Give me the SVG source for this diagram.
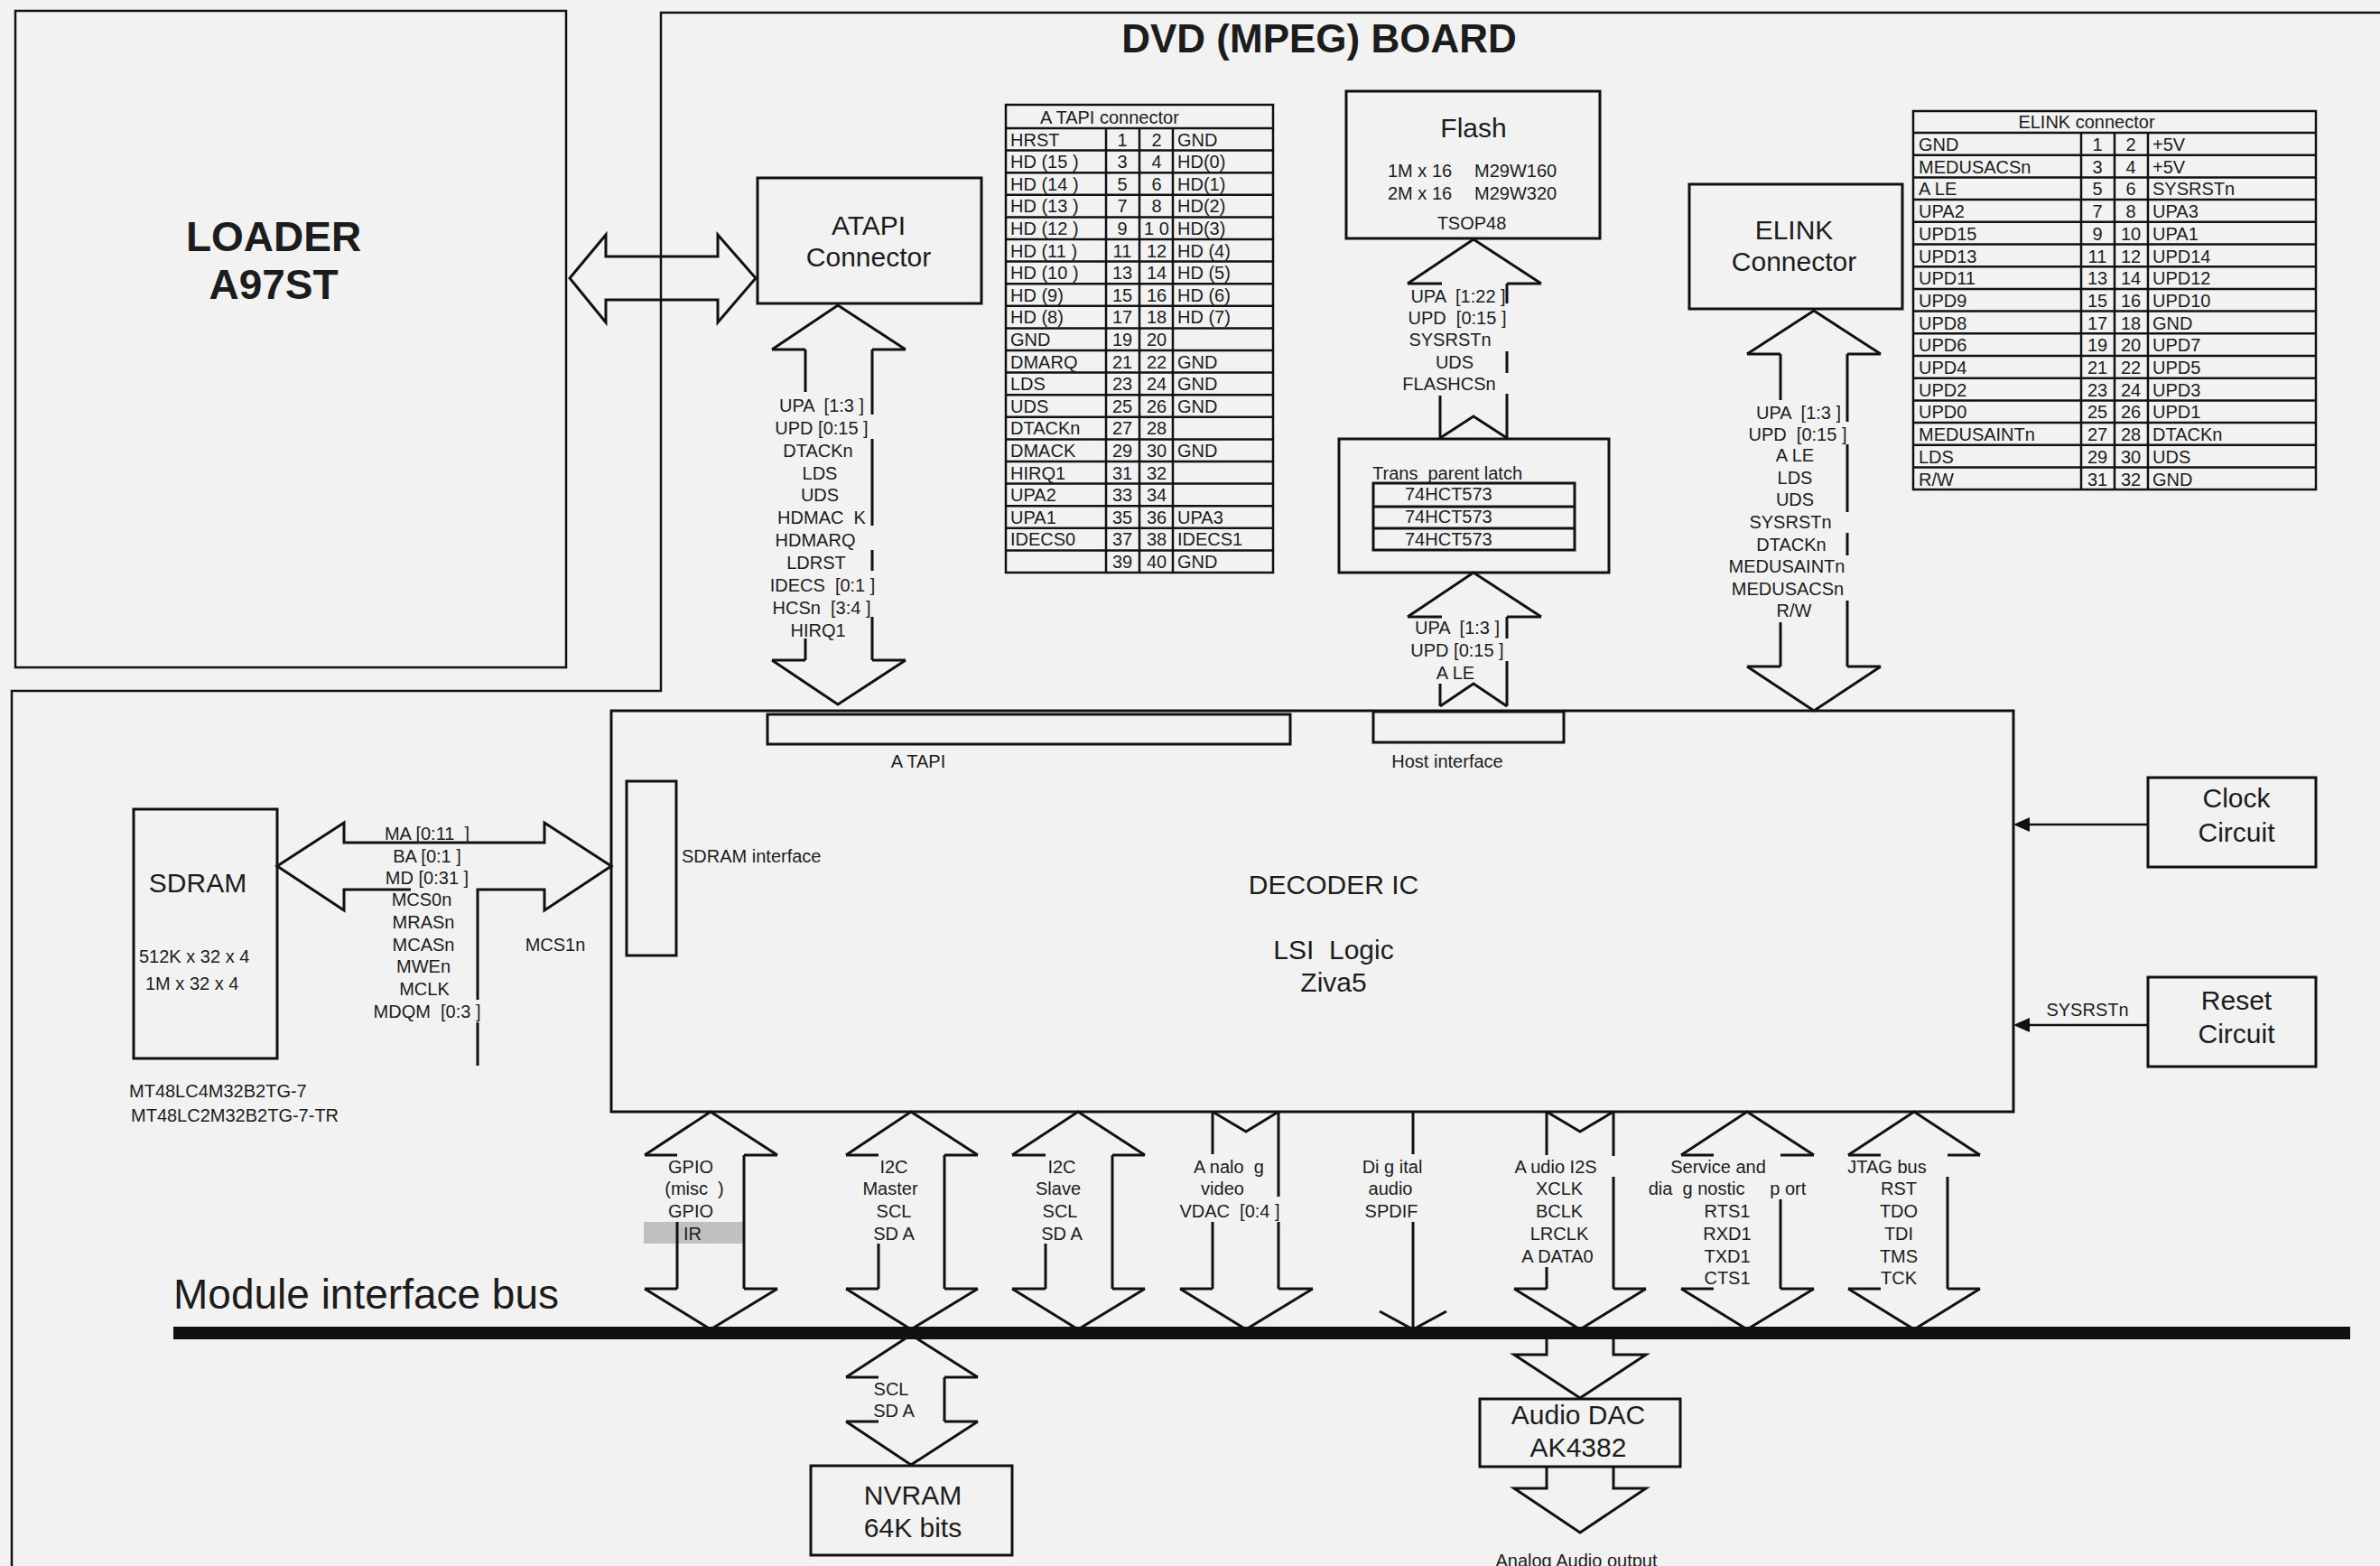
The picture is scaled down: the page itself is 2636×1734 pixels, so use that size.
<svg xmlns="http://www.w3.org/2000/svg" width="2636" height="1734" viewBox="0 0 2636 1734">
<style>
text{font-family:"Liberation Sans",Arial,sans-serif;fill:#1c1c1c;font-size:20px;white-space:pre}
.c{text-anchor:middle}
.big{font-size:30px}
.bold{font-weight:bold}
.bx{fill:none;stroke:#111;stroke-width:3}
.ln{fill:none;stroke:#111;stroke-width:3;stroke-linejoin:miter}
.tl{fill:none;stroke:#111;stroke-width:2.5}
</style>
<rect x="0" y="0" width="2636" height="1734" fill="#f2f2f2"/>

<g id="board-outline">
<polyline class="tl" points="2636,14 732,14 732,765 13,765 13,1734"/>
<text class="c bold" x="1461" y="58" style="font-size:44px">DVD (MPEG) BOARD</text>
</g>

<g id="loader">
<rect class="tl" x="17" y="12" width="610" height="727"/>
<text class="c bold" x="303" y="278" style="font-size:46px">LOADER</text>
<text class="c bold" x="303" y="331" style="font-size:46px">A97ST</text>
</g>

<g id="atapi-connector">
<rect class="bx" x="839" y="197" width="248" height="139"/>
<text class="c big" x="962" y="260">ATAPI</text>
<text class="c big" x="962" y="295">Connector</text>
</g>

<g id="atapi-table">
<rect class="tl" x="1114" y="116" width="296" height="518"/>
<line class="tl" x1="1114" y1="142" x2="1410" y2="142"/>
<g class="tl">
<line x1="1114" y1="166.6" x2="1410" y2="166.6"/><line x1="1114" y1="191.2" x2="1410" y2="191.2"/>
<line x1="1114" y1="215.8" x2="1410" y2="215.8"/><line x1="1114" y1="240.4" x2="1410" y2="240.4"/>
<line x1="1114" y1="265" x2="1410" y2="265"/><line x1="1114" y1="289.6" x2="1410" y2="289.6"/>
<line x1="1114" y1="314.2" x2="1410" y2="314.2"/><line x1="1114" y1="338.8" x2="1410" y2="338.8"/>
<line x1="1114" y1="363.4" x2="1410" y2="363.4"/><line x1="1114" y1="388" x2="1410" y2="388"/>
<line x1="1114" y1="412.6" x2="1410" y2="412.6"/><line x1="1114" y1="437.2" x2="1410" y2="437.2"/>
<line x1="1114" y1="461.8" x2="1410" y2="461.8"/><line x1="1114" y1="486.4" x2="1410" y2="486.4"/>
<line x1="1114" y1="511" x2="1410" y2="511"/><line x1="1114" y1="535.6" x2="1410" y2="535.6"/>
<line x1="1114" y1="560.2" x2="1410" y2="560.2"/><line x1="1114" y1="584.8" x2="1410" y2="584.8"/>
<line x1="1114" y1="609.4" x2="1410" y2="609.4"/>
<line x1="1225" y1="142" x2="1225" y2="634"/><line x1="1262" y1="142" x2="1262" y2="634"/><line x1="1299" y1="142" x2="1299" y2="634"/>
</g>
<text x="1152" y="137">A TAPI connector</text>
<g>
<text x="1119" y="161.5">HRST</text><text class="c" x="1243" y="161.5">1</text><text class="c" x="1281" y="161.5">2</text><text x="1304" y="161.5">GND</text>
<text x="1119" y="186.1">HD (15 )</text><text class="c" x="1243" y="186.1">3</text><text class="c" x="1281" y="186.1">4</text><text x="1304" y="186.1">HD(0)</text>
<text x="1119" y="210.7">HD (14 )</text><text class="c" x="1243" y="210.7">5</text><text class="c" x="1281" y="210.7">6</text><text x="1304" y="210.7">HD(1)</text>
<text x="1119" y="235.3">HD (13 )</text><text class="c" x="1243" y="235.3">7</text><text class="c" x="1281" y="235.3">8</text><text x="1304" y="235.3">HD(2)</text>
<text x="1119" y="259.9">HD (12 )</text><text class="c" x="1243" y="259.9">9</text><text class="c" x="1281" y="259.9">1 0</text><text x="1304" y="259.9">HD(3)</text>
<text x="1119" y="284.5">HD (11 )</text><text class="c" x="1243" y="284.5">11</text><text class="c" x="1281" y="284.5">12</text><text x="1304" y="284.5">HD (4)</text>
<text x="1119" y="309.1">HD (10 )</text><text class="c" x="1243" y="309.1">13</text><text class="c" x="1281" y="309.1">14</text><text x="1304" y="309.1">HD (5)</text>
<text x="1119" y="333.7">HD (9)</text><text class="c" x="1243" y="333.7">15</text><text class="c" x="1281" y="333.7">16</text><text x="1304" y="333.7">HD (6)</text>
<text x="1119" y="358.3">HD (8)</text><text class="c" x="1243" y="358.3">17</text><text class="c" x="1281" y="358.3">18</text><text x="1304" y="358.3">HD (7)</text>
<text x="1119" y="382.9">GND</text><text class="c" x="1243" y="382.9">19</text><text class="c" x="1281" y="382.9">20</text>
<text x="1119" y="407.5">DMARQ</text><text class="c" x="1243" y="407.5">21</text><text class="c" x="1281" y="407.5">22</text><text x="1304" y="407.5">GND</text>
<text x="1119" y="432.1">LDS</text><text class="c" x="1243" y="432.1">23</text><text class="c" x="1281" y="432.1">24</text><text x="1304" y="432.1">GND</text>
<text x="1119" y="456.7">UDS</text><text class="c" x="1243" y="456.7">25</text><text class="c" x="1281" y="456.7">26</text><text x="1304" y="456.7">GND</text>
<text x="1119" y="481.3">DTACKn</text><text class="c" x="1243" y="481.3">27</text><text class="c" x="1281" y="481.3">28</text>
<text x="1119" y="505.9">DMACK</text><text class="c" x="1243" y="505.9">29</text><text class="c" x="1281" y="505.9">30</text><text x="1304" y="505.9">GND</text>
<text x="1119" y="530.5">HIRQ1</text><text class="c" x="1243" y="530.5">31</text><text class="c" x="1281" y="530.5">32</text>
<text x="1119" y="555.1">UPA2</text><text class="c" x="1243" y="555.1">33</text><text class="c" x="1281" y="555.1">34</text>
<text x="1119" y="579.7">UPA1</text><text class="c" x="1243" y="579.7">35</text><text class="c" x="1281" y="579.7">36</text><text x="1304" y="579.7">UPA3</text>
<text x="1119" y="604.3">IDECS0</text><text class="c" x="1243" y="604.3">37</text><text class="c" x="1281" y="604.3">38</text><text x="1304" y="604.3">IDECS1</text>
<text class="c" x="1243" y="628.9">39</text><text class="c" x="1281" y="628.9">40</text><text x="1304" y="628.9">GND</text>
</g>
</g>

<g id="flash">
<rect class="bx" x="1491" y="101" width="281" height="163"/>
<text class="c big" x="1632" y="152">Flash</text>
<text x="1537" y="196">1M x 16</text><text x="1633" y="196">M29W160</text>
<text x="1537" y="221">2M x 16</text><text x="1633" y="221">M29W320</text>
<text class="c" x="1630" y="254">TSOP48</text>
</g>

<g id="latch">
<rect class="bx" x="1483" y="486" width="299" height="148"/>
<text x="1520" y="531">Trans  parent latch</text>
<rect class="bx" x="1521" y="535" width="223" height="74"/>
<line class="ln" x1="1521" y1="561" x2="1744" y2="561"/>
<line class="ln" x1="1521" y1="585" x2="1744" y2="585"/>
<text x="1556" y="554">74HCT573</text>
<text x="1556" y="579">74HCT573</text>
<text x="1556" y="604">74HCT573</text>
</g>

<g id="elink-connector">
<rect class="bx" x="1871" y="204" width="236" height="138"/>
<text class="c big" x="1987" y="265">ELINK</text>
<text class="c big" x="1987" y="300">Connector</text>
</g>

<g id="elink-table">
<rect class="tl" x="2119" y="123" width="446" height="419"/>
<g class="tl">
<line x1="2119" y1="147" x2="2565" y2="147"/>
<line x1="2119" y1="171.7" x2="2565" y2="171.7"/><line x1="2119" y1="196.4" x2="2565" y2="196.4"/>
<line x1="2119" y1="221.1" x2="2565" y2="221.1"/><line x1="2119" y1="245.8" x2="2565" y2="245.8"/>
<line x1="2119" y1="270.5" x2="2565" y2="270.5"/><line x1="2119" y1="295.2" x2="2565" y2="295.2"/>
<line x1="2119" y1="319.9" x2="2565" y2="319.9"/><line x1="2119" y1="344.6" x2="2565" y2="344.6"/>
<line x1="2119" y1="369.3" x2="2565" y2="369.3"/><line x1="2119" y1="394" x2="2565" y2="394"/>
<line x1="2119" y1="418.7" x2="2565" y2="418.7"/><line x1="2119" y1="443.4" x2="2565" y2="443.4"/>
<line x1="2119" y1="468.1" x2="2565" y2="468.1"/><line x1="2119" y1="492.8" x2="2565" y2="492.8"/>
<line x1="2119" y1="517.5" x2="2565" y2="517.5"/>
<line x1="2305" y1="147" x2="2305" y2="542"/><line x1="2342" y1="147" x2="2342" y2="542"/><line x1="2379" y1="147" x2="2379" y2="542"/>
</g>
<text class="c" x="2311" y="142">ELINK connector</text>
<g>
<text x="2125" y="167">GND</text><text class="c" x="2323" y="167">1</text><text class="c" x="2360" y="167">2</text><text x="2384" y="167">+5V</text>
<text x="2125" y="191.7">MEDUSACSn</text><text class="c" x="2323" y="191.7">3</text><text class="c" x="2360" y="191.7">4</text><text x="2384" y="191.7">+5V</text>
<text x="2125" y="216.4">A LE</text><text class="c" x="2323" y="216.4">5</text><text class="c" x="2360" y="216.4">6</text><text x="2384" y="216.4">SYSRSTn</text>
<text x="2125" y="241.1">UPA2</text><text class="c" x="2323" y="241.1">7</text><text class="c" x="2360" y="241.1">8</text><text x="2384" y="241.1">UPA3</text>
<text x="2125" y="265.8">UPD15</text><text class="c" x="2323" y="265.8">9</text><text class="c" x="2360" y="265.8">10</text><text x="2384" y="265.8">UPA1</text>
<text x="2125" y="290.5">UPD13</text><text class="c" x="2323" y="290.5">11</text><text class="c" x="2360" y="290.5">12</text><text x="2384" y="290.5">UPD14</text>
<text x="2125" y="315.2">UPD11</text><text class="c" x="2323" y="315.2">13</text><text class="c" x="2360" y="315.2">14</text><text x="2384" y="315.2">UPD12</text>
<text x="2125" y="339.9">UPD9</text><text class="c" x="2323" y="339.9">15</text><text class="c" x="2360" y="339.9">16</text><text x="2384" y="339.9">UPD10</text>
<text x="2125" y="364.6">UPD8</text><text class="c" x="2323" y="364.6">17</text><text class="c" x="2360" y="364.6">18</text><text x="2384" y="364.6">GND</text>
<text x="2125" y="389.3">UPD6</text><text class="c" x="2323" y="389.3">19</text><text class="c" x="2360" y="389.3">20</text><text x="2384" y="389.3">UPD7</text>
<text x="2125" y="414">UPD4</text><text class="c" x="2323" y="414">21</text><text class="c" x="2360" y="414">22</text><text x="2384" y="414">UPD5</text>
<text x="2125" y="438.7">UPD2</text><text class="c" x="2323" y="438.7">23</text><text class="c" x="2360" y="438.7">24</text><text x="2384" y="438.7">UPD3</text>
<text x="2125" y="463.4">UPD0</text><text class="c" x="2323" y="463.4">25</text><text class="c" x="2360" y="463.4">26</text><text x="2384" y="463.4">UPD1</text>
<text x="2125" y="488.1">MEDUSAINTn</text><text class="c" x="2323" y="488.1">27</text><text class="c" x="2360" y="488.1">28</text><text x="2384" y="488.1">DTACKn</text>
<text x="2125" y="512.8">LDS</text><text class="c" x="2323" y="512.8">29</text><text class="c" x="2360" y="512.8">30</text><text x="2384" y="512.8">UDS</text>
<text x="2125" y="537.5">R/W</text><text class="c" x="2323" y="537.5">31</text><text class="c" x="2360" y="537.5">32</text><text x="2384" y="537.5">GND</text>
</g>
</g>

<g id="decoder">
<rect class="bx" x="677" y="787" width="1553" height="444"/>
<rect class="bx" x="850" y="791" width="579" height="33"/>
<text class="c" x="1017" y="850">A TAPI</text>
<rect class="bx" x="1521" y="788" width="211" height="34"/>
<text class="c" x="1603" y="850">Host interface</text>
<rect class="bx" x="694" y="865" width="55" height="193"/>
<text x="755" y="955">SDRAM interface</text>
<text class="c big" x="1477" y="990">DECODER IC</text>
<text class="c big" x="1477" y="1062">LSI  Logic</text>
<text class="c big" x="1477" y="1098">Ziva5</text>
</g>

<g id="sdram">
<rect class="bx" x="148" y="896" width="159" height="276"/>
<text class="c big" x="219" y="988">SDRAM</text>
<text x="154" y="1066">512K x 32 x 4</text>
<text x="161" y="1096">1M x 32 x 4</text>
<text x="143" y="1215">MT48LC4M32B2TG-7</text>
<text x="145" y="1242">MT48LC2M32B2TG-7-TR</text>
</g>

<g id="clock-circuit">
<rect class="bx" x="2379" y="861" width="186" height="99"/>
<text class="c big" x="2477" y="894">Clock</text>
<text class="c big" x="2477" y="932">Circuit</text>
</g>

<g id="reset-circuit">
<rect class="bx" x="2379" y="1082" width="186" height="99"/>
<text class="c big" x="2477" y="1118">Reset</text>
<text class="c big" x="2477" y="1155">Circuit</text>
</g>

<g id="nvram">
<rect class="bx" x="898" y="1623" width="223" height="99"/>
<text class="c big" x="1011" y="1666">NVRAM</text>
<text class="c big" x="1011" y="1702">64K bits</text>
</g>

<g id="audio-dac">
<rect class="bx" x="1639" y="1549" width="222" height="75"/>
<text class="c big" x="1748" y="1577">Audio DAC</text>
<text class="c big" x="1748" y="1613">AK4382</text>
</g>

<g id="module-bus">
<rect x="192" y="1469" width="2411" height="14" fill="#111"/>
<text x="192" y="1449" style="font-size:46px">Module interface bus</text>
</g>

<g id="connectors">
<!-- Loader <-> ATAPI -->
<polygon class="ln" points="631,308 671,260 671,284 795,284 795,260 837,308 795,357 795,332 671,332 671,357"/>

<!-- ATAPI <-> decoder -->
<g class="ln">
<polyline points="855,387 928,338 1003,387"/>
<line x1="855" y1="387" x2="892" y2="387"/><line x1="966" y1="387" x2="1003" y2="387"/>
<line x1="892" y1="387" x2="892" y2="434"/><line x1="892" y1="707" x2="892" y2="731"/>
<line x1="966" y1="387" x2="966" y2="459"/><line x1="966" y1="486" x2="966" y2="582"/>
<line x1="966" y1="609" x2="966" y2="632"/><line x1="966" y1="683" x2="966" y2="731"/>
<line x1="855" y1="731" x2="892" y2="731"/><line x1="966" y1="731" x2="1003" y2="731"/>
<polyline points="855,731 928,780 1003,731"/>
</g>
<text class="c" x="910" y="456">UPA  [1:3 ]</text>
<text class="c" x="910" y="481">UPD [0:15 ]</text>
<text class="c" x="906" y="506">DTACKn</text>
<text class="c" x="908" y="531">LDS</text>
<text class="c" x="908" y="555">UDS</text>
<text class="c" x="910" y="580">HDMAC  K</text>
<text class="c" x="903" y="605">HDMARQ</text>
<text class="c" x="904" y="630">LDRST</text>
<text class="c" x="911" y="655">IDECS  [0:1 ]</text>
<text class="c" x="910" y="680">HCSn  [3:4 ]</text>
<text class="c" x="906" y="705">HIRQ1</text>

<!-- latch -> flash -->
<g class="ln">
<polyline points="1559,314 1632,265 1707,314"/>
<line x1="1559" y1="314" x2="1597" y2="314"/><line x1="1669" y1="314" x2="1707" y2="314"/>
<line x1="1669" y1="314" x2="1669" y2="336"/><line x1="1669" y1="389" x2="1669" y2="413"/>
<line x1="1669" y1="436" x2="1669" y2="485"/><line x1="1595" y1="438" x2="1595" y2="485"/>
<polyline points="1595,485 1632,461 1669,485"/>
</g>
<text class="c" x="1615" y="335">UPA  [1:22 ]</text>
<text class="c" x="1614" y="359">UPD  [0:15 ]</text>
<text class="c" x="1606" y="383">SYSRSTn</text>
<text class="c" x="1611" y="408">UDS</text>
<text class="c" x="1605" y="432">FLASHCSn</text>

<!-- host interface -> latch -->
<g class="ln">
<polyline points="1559,683 1632,634 1707,683"/>
<line x1="1559" y1="683" x2="1597" y2="683"/><line x1="1669" y1="683" x2="1707" y2="683"/>
<line x1="1669" y1="683" x2="1669" y2="707"/><line x1="1669" y1="732" x2="1669" y2="782"/>
<line x1="1595" y1="757" x2="1595" y2="782"/>
<polyline points="1595,782 1632,757 1669,782"/>
</g>
<text class="c" x="1614" y="702">UPA  [1:3 ]</text>
<text class="c" x="1614" y="727">UPD [0:15 ]</text>
<text class="c" x="1612" y="752">A LE</text>

<!-- ELINK <-> decoder -->
<g class="ln">
<polyline points="1935,392 2009,344 2083,392"/>
<line x1="1935" y1="392" x2="1972" y2="392"/><line x1="2046" y1="392" x2="2083" y2="392"/>
<line x1="1972" y1="392" x2="1972" y2="443"/><line x1="1972" y1="689" x2="1972" y2="738"/>
<line x1="2046" y1="392" x2="2046" y2="467"/><line x1="2046" y1="492" x2="2046" y2="567"/>
<line x1="2046" y1="590" x2="2046" y2="615"/><line x1="2046" y1="665" x2="2046" y2="738"/>
<line x1="1935" y1="738" x2="1972" y2="738"/><line x1="2046" y1="738" x2="2083" y2="738"/>
<polyline points="1935,738 2009,787 2083,738"/>
</g>
<text class="c" x="1992" y="464">UPA  [1:3 ]</text>
<text class="c" x="1991" y="488">UPD  [0:15 ]</text>
<text class="c" x="1988" y="511">A LE</text>
<text class="c" x="1988" y="536">LDS</text>
<text class="c" x="1988" y="560">UDS</text>
<text class="c" x="1983" y="585">SYSRSTn</text>
<text class="c" x="1984" y="610">DTACKn</text>
<text class="c" x="1979" y="634">MEDUSAINTn</text>
<text class="c" x="1980" y="659">MEDUSACSn</text>
<text class="c" x="1987" y="683">R/W</text>

<!-- SDRAM <-> decoder -->
<path class="ln" d="M455,985 H381 V1008 L307,959 L381,911 V933 H603 V911 L677,959 L603,1008 V985 H529 V1107 M529,1132 V1180"/>
<text class="c" x="473" y="930">MA [0:11  ]</text>
<text class="c" x="473" y="955">BA [0:1 ]</text>
<text class="c" x="473" y="979">MD [0:31 ]</text>
<text class="c" x="467" y="1003">MCS0n</text>
<text class="c" x="469" y="1028">MRASn</text>
<text class="c" x="469" y="1053">MCASn</text>
<text class="c" x="469" y="1077">MWEn</text>
<text class="c" x="470" y="1102">MCLK</text>
<text class="c" x="473" y="1127">MDQM  [0:3 ]</text>
<text class="c" x="615" y="1053">MCS1n</text>

<!-- clock / reset -->
<line class="tl" x1="2379" y1="913" x2="2246" y2="913"/>
<polygon points="2230,913 2248,905 2248,921" fill="#111"/>
<line class="tl" x1="2379" y1="1135" x2="2246" y2="1135"/>
<polygon points="2230,1135 2248,1127 2248,1143" fill="#111"/>
<text class="c" x="2312" y="1125">SYSRSTn</text>

<!-- GPIO -->
<rect x="713" y="1353" width="110" height="24" fill="#c0c0c0"/>
<g class="ln">
<polyline points="714,1279 787,1231 861,1279"/>
<line x1="714" y1="1279" x2="750" y2="1279"/><line x1="824" y1="1279" x2="861" y2="1279"/>
<line x1="824" y1="1279" x2="824" y2="1427"/><line x1="750" y1="1353" x2="750" y2="1427"/>
<line x1="714" y1="1427" x2="750" y2="1427"/><line x1="824" y1="1427" x2="861" y2="1427"/>
<polyline points="714,1427 787,1472 861,1427"/>
</g>
<text class="c" x="765" y="1299">GPIO</text>
<text class="c" x="769" y="1323">(misc  )</text>
<text class="c" x="765" y="1348">GPIO</text>
<text x="757" y="1373">IR</text>

<!-- I2C master -->
<g class="ln">
<polyline points="937,1279 1009,1231 1083,1279"/>
<line x1="937" y1="1279" x2="973" y2="1279"/><line x1="1046" y1="1279" x2="1083" y2="1279"/>
<line x1="1046" y1="1279" x2="1046" y2="1427"/><line x1="973" y1="1377" x2="973" y2="1427"/>
<line x1="937" y1="1427" x2="973" y2="1427"/><line x1="1046" y1="1427" x2="1083" y2="1427"/>
<polyline points="937,1427 1009,1472 1083,1427"/>
</g>
<text class="c" x="990" y="1299">I2C</text>
<text class="c" x="986" y="1323">Master</text>
<text class="c" x="990" y="1348">SCL</text>
<text class="c" x="990" y="1373">SD A</text>

<!-- I2C slave -->
<g class="ln">
<polyline points="1121,1279 1194,1231 1268,1279"/>
<line x1="1121" y1="1279" x2="1158" y2="1279"/><line x1="1232" y1="1279" x2="1268" y2="1279"/>
<line x1="1232" y1="1279" x2="1232" y2="1427"/><line x1="1158" y1="1377" x2="1158" y2="1427"/>
<line x1="1121" y1="1427" x2="1158" y2="1427"/><line x1="1232" y1="1427" x2="1268" y2="1427"/>
<polyline points="1121,1427 1194,1472 1268,1427"/>
</g>
<text class="c" x="1176" y="1299">I2C</text>
<text class="c" x="1172" y="1323">Slave</text>
<text class="c" x="1174" y="1348">SCL</text>
<text class="c" x="1176" y="1373">SD A</text>

<!-- analog video -->
<g class="ln">
<polyline points="1343,1231 1380,1253 1416,1231"/>
<line x1="1343" y1="1231" x2="1343" y2="1278"/><line x1="1343" y1="1353" x2="1343" y2="1427"/>
<line x1="1416" y1="1231" x2="1416" y2="1325"/><line x1="1416" y1="1353" x2="1416" y2="1427"/>
<line x1="1307" y1="1427" x2="1343" y2="1427"/><line x1="1416" y1="1427" x2="1454" y2="1427"/>
<polyline points="1307,1427 1380,1472 1454,1427"/>
</g>
<text class="c" x="1361" y="1299">A nalo  g</text>
<text class="c" x="1354" y="1323">video</text>
<text class="c" x="1362" y="1348">VDAC  [0:4 ]</text>

<!-- digital audio -->
<g class="ln">
<line x1="1565" y1="1231" x2="1565" y2="1278"/><line x1="1565" y1="1353" x2="1565" y2="1472"/>
<polyline points="1528,1452 1565,1472 1602,1452"/>
</g>
<text class="c" x="1542" y="1299">Di g ital</text>
<text class="c" x="1540" y="1323">audio</text>
<text class="c" x="1541" y="1348">SPDIF</text>

<!-- audio I2S -->
<g class="ln">
<polyline points="1713,1231 1750,1253 1787,1231"/>
<line x1="1713" y1="1231" x2="1713" y2="1279"/><line x1="1713" y1="1403" x2="1713" y2="1427"/>
<line x1="1787" y1="1231" x2="1787" y2="1280"/><line x1="1787" y1="1303" x2="1787" y2="1427"/>
<line x1="1677" y1="1427" x2="1713" y2="1427"/><line x1="1787" y1="1427" x2="1823" y2="1427"/>
<polyline points="1677,1427 1750,1472 1823,1427"/>
</g>
<text class="c" x="1723" y="1299">A udio I2S</text>
<text class="c" x="1727" y="1323">XCLK</text>
<text class="c" x="1727" y="1348">BCLK</text>
<text class="c" x="1727" y="1373">LRCLK</text>
<text class="c" x="1725" y="1398">A DATA0</text>

<!-- service / diagnostic -->
<g class="ln">
<polyline points="1862,1279 1935,1231 2009,1279"/>
<line x1="1862" y1="1279" x2="1898" y2="1279"/><line x1="1972" y1="1279" x2="2009" y2="1279"/>
<line x1="1972" y1="1328" x2="1972" y2="1427"/>
<line x1="1862" y1="1427" x2="1898" y2="1427"/><line x1="1972" y1="1427" x2="2009" y2="1427"/>
<polyline points="1862,1427 1935,1472 2009,1427"/>
</g>
<text class="c" x="1903" y="1299">Service and</text>
<text class="c" x="1913" y="1323">dia  g nostic     p ort</text>
<text class="c" x="1913" y="1348">RTS1</text>
<text class="c" x="1913" y="1373">RXD1</text>
<text class="c" x="1913" y="1398">TXD1</text>
<text class="c" x="1913" y="1422">CTS1</text>

<!-- JTAG -->
<g class="ln">
<polyline points="2047,1279 2120,1231 2193,1279"/>
<line x1="2047" y1="1279" x2="2083" y2="1279"/><line x1="2157" y1="1279" x2="2193" y2="1279"/>
<line x1="2157" y1="1303" x2="2157" y2="1427"/>
<line x1="2047" y1="1427" x2="2083" y2="1427"/><line x1="2157" y1="1427" x2="2193" y2="1427"/>
<polyline points="2047,1427 2120,1472 2193,1427"/>
</g>
<text class="c" x="2090" y="1299">JTAG bus</text>
<text class="c" x="2103" y="1323">RST</text>
<text class="c" x="2103" y="1348">TDO</text>
<text class="c" x="2103" y="1373">TDI</text>
<text class="c" x="2103" y="1398">TMS</text>
<text class="c" x="2103" y="1422">TCK</text>

<!-- bus <-> NVRAM -->
<g class="ln">
<polyline points="937,1525 1009,1478 1083,1525"/>
<line x1="937" y1="1525" x2="973" y2="1525"/><line x1="1046" y1="1525" x2="1083" y2="1525"/>
<line x1="1046" y1="1525" x2="1046" y2="1574"/>
<line x1="937" y1="1574" x2="973" y2="1574"/><line x1="1046" y1="1574" x2="1083" y2="1574"/>
<polyline points="937,1574 1009,1622 1083,1574"/>
</g>
<text class="c" x="987" y="1545">SCL</text>
<text class="c" x="990" y="1569">SD A</text>

<!-- bus -> audio DAC -> output -->
<path class="ln" d="M1713,1483 V1500 H1677 L1750,1548 L1823,1500 H1787 V1483"/>
<path class="ln" d="M1713,1624 V1648 H1677 L1750,1697 L1823,1648 H1787 V1624"/>
<text class="c" x="1746" y="1735">Analog Audio output</text>
</g>
</svg>
